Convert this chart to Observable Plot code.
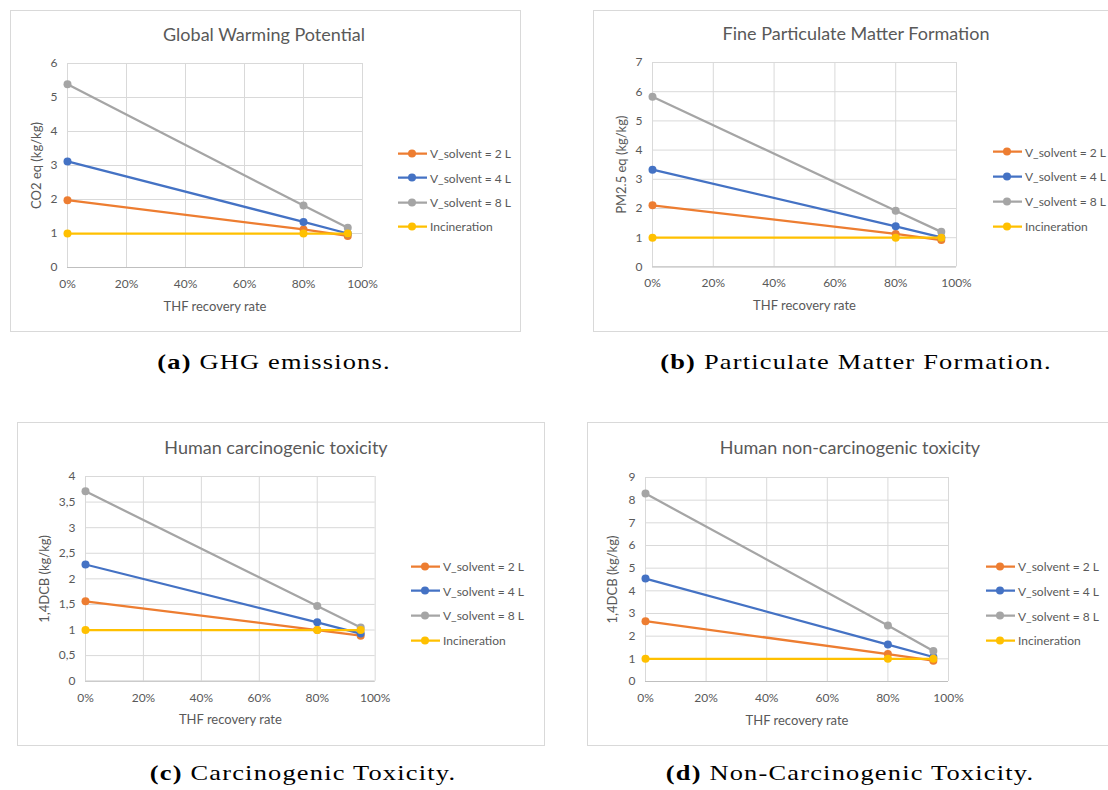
<!DOCTYPE html>
<html>
<head>
<meta charset="utf-8">
<script src="https://cdn.jsdelivr.net/npm/d3@7"></script>
<script src="https://cdn.jsdelivr.net/npm/@observablehq/plot@0.6"></script>
<style>
  html, body { margin:0; padding:0; background:#fff; width:1108px; height:790px; overflow:hidden; position:relative; }
  .box { position:absolute; border:1px solid #d9d9d9; box-sizing:border-box; background:#fff; }
  .title { position:absolute; font-family:Lato, "Open Sans", sans-serif; font-size:18px; color:#595959; white-space:nowrap; transform:translate(-50%,-50%); }
  .plot { position:absolute; }
  .legend { position:absolute; font-family:Lato, sans-serif; font-size:12px; color:#595959; }
  .legend .row { position:absolute; left:0; white-space:nowrap; display:flex; align-items:center; transform:translateY(-50%); }
  .legend svg { display:block; margin-right:2px; }
  .cap { position:absolute; font-family:"Liberation Serif", "DejaVu Serif", serif; font-size:22px; letter-spacing:1px; color:#000; white-space:nowrap; transform:translate(-50%,-50%) scaleX(1.2); }
  .cap b { font-weight:bold; }
</style>
</head>
<body>
<script>
// ---------- data ----------
const recovery = [0, 0.8, 0.95];
const seriesNames = ["V_solvent = 2 L", "V_solvent = 4 L", "V_solvent = 8 L", "Incineration"];
const seriesColors = ["#ED7D31", "#4472C4", "#A5A5A5", "#FFC000"];
const xTicks = [0, 0.2, 0.4, 0.6, 0.8, 1];

// (a) Global Warming Potential
const gwp2L = [1.98, 1.12, 0.93];
const gwp4L = [3.12, 1.34, 1.00];
const gwp8L = [5.39, 1.82, 1.17];
const gwpInc = [1, 1, 1];
const gwpTicks = [0, 1, 2, 3, 4, 5, 6];

// (b) Fine Particulate Matter Formation
const pm2L = [2.11, 1.13, 0.92];
const pm4L = [3.33, 1.39, 1.01];
const pm8L = [5.83, 1.92, 1.20];
const pmInc = [1, 1, 1];
const pmTicks = [0, 1, 2, 3, 4, 5, 6, 7];

// (c) Human carcinogenic toxicity
const hc2L = [1.56, 1.00, 0.89];
const hc4L = [2.28, 1.15, 0.93];
const hc8L = [3.71, 1.47, 1.05];
const hcInc = [1, 1, 1];
const hcTicks = [0, 0.5, 1, 1.5, 2, 2.5, 3, 3.5, 4];

// (d) Human non-carcinogenic toxicity
const hnc2L = [2.66, 1.21, 0.92];
const hnc4L = [4.54, 1.63, 1.08];
const hnc8L = [8.29, 2.47, 1.35];
const hncInc = [1, 1, 1];
const hncTicks = [0, 1, 2, 3, 4, 5, 6, 7, 8, 9];

const titles = ["Global Warming Potential", "Fine Particulate Matter Formation", "Human carcinogenic toxicity", "Human non-carcinogenic toxicity"];
const yLabels = ["CO2 eq (kg/kg)", "PM2.5 eq (kg/kg)", "1,4DCB (kg/kg)", "1,4DCB (kg/kg)"];
const xLabel = "THF recovery rate";
const captionTags = ["(a)", "(b)", "(c)", "(d)"];
const captionTexts = ["GHG emissions.", "Particulate Matter Formation.", "Carcinogenic Toxicity.", "Non-Carcinogenic Toxicity."];

// ---------- layout ----------
const panels = [
  { values:[gwp2L, gwp4L, gwp8L, gwpInc], ticks:gwpTicks, comma:false,
    box:{x:10,y:10,w:511,h:322}, frame:{x0:67,x1:362,y0:63,y1:267}, title:{x:264,y:34},
    legend:{x:398,y:153.3,dy:24.4}, ylabOff:36, cap:{x:274,y:362} },
  { values:[pm2L, pm4L, pm8L, pmInc], ticks:pmTicks, comma:false,
    box:{x:593,y:10,w:540,h:322}, frame:{x0:651.7,x1:955.7,y0:62.3,y1:266.7}, title:{x:856,y:32.7},
    legend:{x:993,y:151.7,dy:24.8}, ylabOff:36, cap:{x:856,y:362} },
  { values:[hc2L, hc4L, hc8L, hcInc], ticks:hcTicks, comma:true,
    box:{x:17,y:422,w:528,h:324}, frame:{x0:85,x1:374.7,y0:476,y1:680.7}, title:{x:276,y:446.7},
    legend:{x:411,y:566,dy:24.7}, ylabOff:46, cap:{x:303,y:773} },
  { values:[hnc2L, hnc4L, hnc8L, hncInc], ticks:hncTicks, comma:false,
    box:{x:587,y:422,w:540,h:324}, frame:{x0:645.3,x1:948.3,y0:476.7,y1:680.7}, title:{x:850,y:446.7},
    legend:{x:986,y:566,dy:24.8}, ylabOff:38, cap:{x:850,y:773} }
];

const mL = 60, mR = 15, mT = 15, mB = 50;
const pct = d3.format(".0%");

panels.forEach((p, k) => {
  const box = document.createElement("div");
  box.className = "box";
  Object.assign(box.style, {left:p.box.x+"px", top:p.box.y+"px", width:p.box.w+"px", height:p.box.h+"px"});
  document.body.appendChild(box);

  const t = document.createElement("div");
  t.className = "title"; t.textContent = titles[k];
  Object.assign(t.style, {left:p.title.x+"px", top:p.title.y+"px"});
  document.body.appendChild(t);

  const rows = seriesNames.flatMap((s, i) => recovery.map((r, j) => ({series:s, x:r, y:p.values[i][j]})));
  const yfmt = p.comma ? (d => String(d).replace(".", ",")) : (d => String(d));
  const ticks = p.ticks;

  const chart = Plot.plot({
    width: (p.frame.x1 - p.frame.x0) + mL + mR,
    height: (p.frame.y1 - p.frame.y0) + mT + mB,
    marginLeft: mL, marginRight: mR, marginTop: mT, marginBottom: mB,
    style: {fontFamily:"Lato, sans-serif", fontSize:"12px", color:"#595959", background:"transparent", overflow:"visible"},
    x: {domain:[0, 1]},
    y: {domain:[ticks[0], ticks[ticks.length-1]]},
    color: {domain: seriesNames, range: seriesColors},
    marks: [
      Plot.gridX(xTicks, {stroke:"#d9d9d9", strokeOpacity:1, strokeWidth:1}),
      Plot.gridY(ticks, {stroke:"#d9d9d9", strokeOpacity:1, strokeWidth:1}),
      Plot.ruleY([ticks[0]], {stroke:"#bfbfbf"}),
      Plot.axisX(xTicks, {tickSize:0, tickPadding:12, tickFormat:pct, label:null}),
      Plot.axisX([], {tickSize:0, label:xLabel, labelAnchor:"center", labelOffset:43, labelArrow:"none", fontSize:13}),
      Plot.axisY(ticks, {tickSize:0, tickPadding:10, tickFormat:yfmt, label:null}),
      Plot.axisY([], {tickSize:0, label:yLabels[k], labelAnchor:"center", labelOffset:p.ylabOff, labelArrow:"none", fontSize:13}),
      ...seriesNames.flatMap(s => [
        Plot.line(rows.filter(d => d.series === s), {x:"x", y:"y", stroke:"series", strokeWidth:2.25}),
        Plot.dot(rows.filter(d => d.series === s), {x:"x", y:"y", fill:"series", r:4})
      ])
    ]
  });
  const wrap = document.createElement("div");
  wrap.className = "plot";
  Object.assign(wrap.style, {left:(p.frame.x0 - mL)+"px", top:(p.frame.y0 - mT)+"px"});
  wrap.appendChild(chart);
  document.body.appendChild(wrap);

  // legend
  const lg = document.createElement("div");
  lg.className = "legend";
  Object.assign(lg.style, {left:p.legend.x+"px", top:p.legend.y+"px"});
  seriesNames.forEach((s, i) => {
    const row = document.createElement("div");
    row.className = "row";
    row.style.top = (i * p.legend.dy) + "px";
    const sw = d3.create("svg").attr("width", 30).attr("height", 10);
    sw.append("line").attr("x1", 0).attr("x2", 29).attr("y1", 5).attr("y2", 5).attr("stroke", seriesColors[i]).attr("stroke-width", 2.25);
    sw.append("circle").attr("cx", 14).attr("cy", 5).attr("r", 4).attr("fill", seriesColors[i]);
    row.appendChild(sw.node());
    const sp = document.createElement("span"); sp.textContent = s;
    row.appendChild(sp);
    lg.appendChild(row);
  });
  document.body.appendChild(lg);

  const cap = document.createElement("div");
  cap.className = "cap";
  cap.innerHTML = "<b>" + captionTags[k] + "</b> " + captionTexts[k];
  Object.assign(cap.style, {left:p.cap.x+"px", top:p.cap.y+"px"});
  document.body.appendChild(cap);
});
</script>
</body>
</html>
